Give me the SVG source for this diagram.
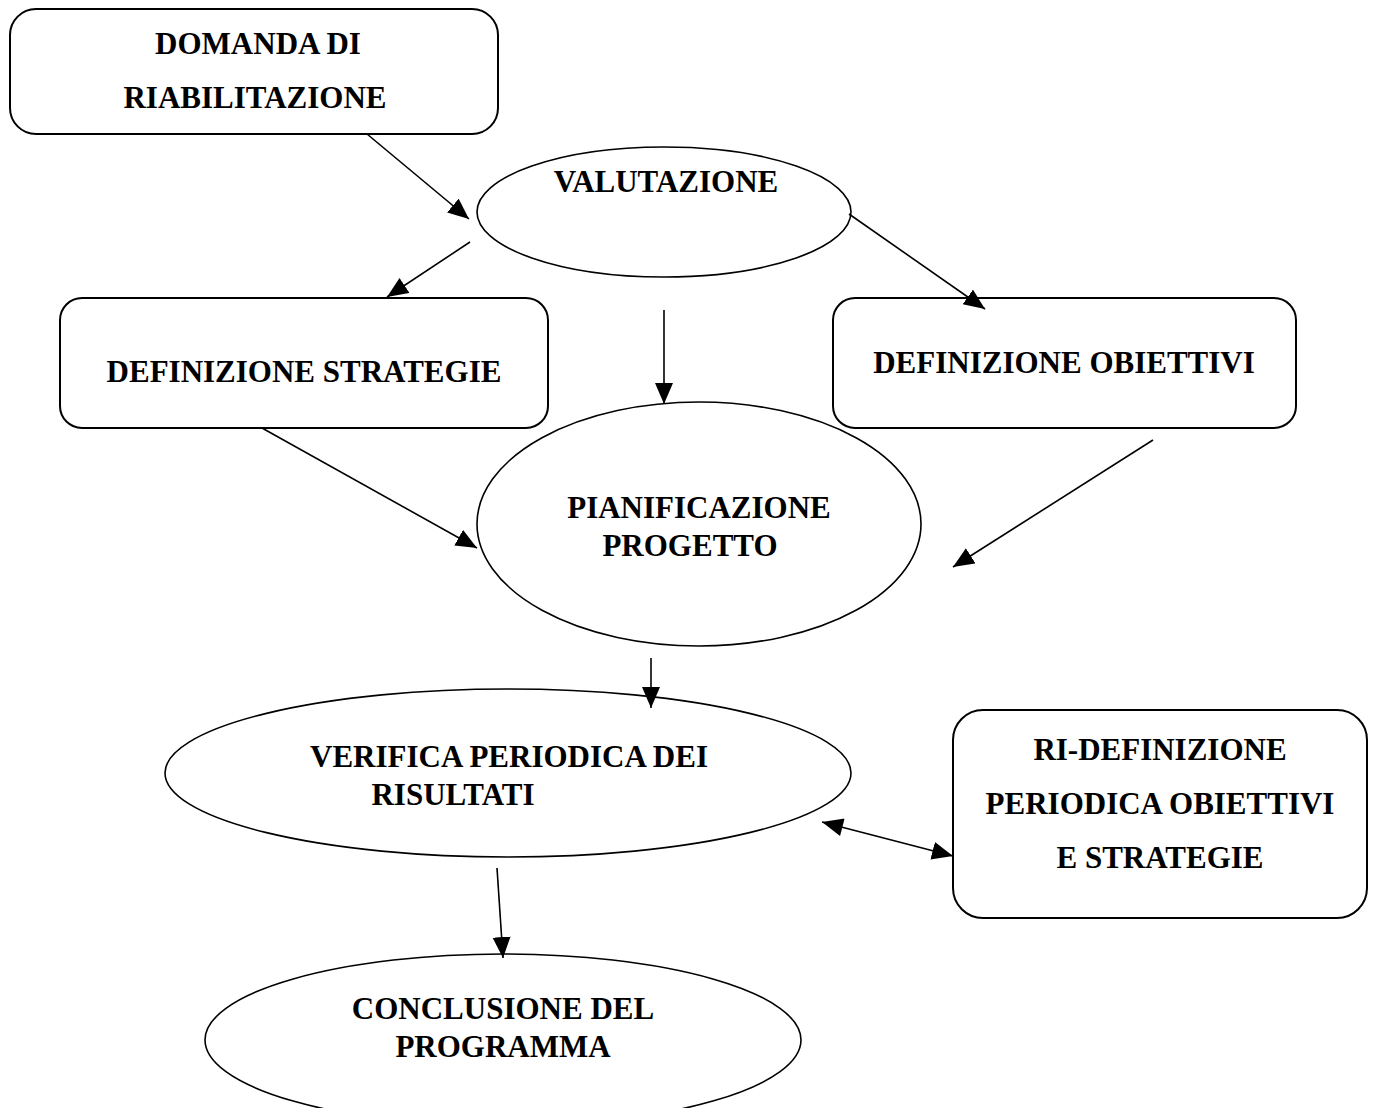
<svg xmlns="http://www.w3.org/2000/svg" width="1377" height="1108" viewBox="0 0 1377 1108">
<style>
.box{fill:#fff;stroke:#000;stroke-width:2}
.ell{fill:#fff;stroke:#000;stroke-width:1.6}
.t{font-family:"Liberation Serif","Times New Roman",serif;font-weight:bold;font-size:31px;text-anchor:middle;fill:#000}
.c{stroke:#000;stroke-width:1.6;fill:none;marker-end:url(#ah)}
</style>
<defs>
<marker id="ah" markerUnits="userSpaceOnUse" markerWidth="24" markerHeight="20" refX="21" refY="9" orient="auto">
<path d="M0,0 L21,9 L0,18 z" fill="#000"/>
</marker>
<marker id="ahs" markerUnits="userSpaceOnUse" markerWidth="24" markerHeight="20" refX="0" refY="9" orient="auto">
<path d="M21,0 L0,9 L21,18 z" fill="#000"/>
</marker>
</defs>
<g id="domanda">
<rect class="box" x="10" y="9" width="488" height="125" rx="26"/>
<text class="t" x="258" y="54">DOMANDA DI</text>
<text class="t" x="255" y="108">RIABILITAZIONE</text>
</g>
<g id="valutazione">
<ellipse class="ell" cx="664" cy="212" rx="187" ry="65"/>
<text class="t" x="666" y="192">VALUTAZIONE</text>
</g>
<g id="strategie">
<rect class="box" x="60" y="298" width="488" height="130" rx="22"/>
<text class="t" x="304" y="382">DEFINIZIONE STRATEGIE</text>
</g>
<g id="obiettivi">
<rect class="box" x="833" y="298" width="463" height="130" rx="22"/>
<text class="t" x="1064" y="373">DEFINIZIONE OBIETTIVI</text>
</g>
<g id="pianificazione">
<ellipse class="ell" cx="699" cy="524" rx="222" ry="122"/>
<text class="t" x="699" y="518">PIANIFICAZIONE</text>
<text class="t" x="690" y="556">PROGETTO</text>
</g>
<g id="verifica">
<ellipse class="ell" cx="508" cy="773" rx="343" ry="84"/>
<text class="t" x="509" y="767">VERIFICA PERIODICA DEI</text>
<text class="t" x="453" y="805">RISULTATI</text>
</g>
<g id="ridefinizione">
<rect class="box" x="953" y="710" width="414" height="208" rx="30"/>
<text class="t" x="1160" y="760">RI-DEFINIZIONE</text>
<text class="t" x="1160" y="814">PERIODICA OBIETTIVI</text>
<text class="t" x="1160" y="868">E STRATEGIE</text>
</g>
<g id="conclusione">
<ellipse class="ell" cx="503" cy="1040" rx="298" ry="86"/>
<text class="t" x="503" y="1019">CONCLUSIONE DEL</text>
<text class="t" x="503" y="1057">PROGRAMMA</text>
</g>
<g id="connectors">
<line class="c" x1="367" y1="134" x2="469" y2="219"/>
<line class="c" x1="470" y1="242" x2="387" y2="297"/>
<line class="c" x1="664" y1="310" x2="664" y2="404"/>
<line class="c" x1="849" y1="214" x2="985" y2="309"/>
<line class="c" x1="262" y1="428" x2="477" y2="548"/>
<line class="c" x1="1153" y1="440" x2="953" y2="567"/>
<line class="c" x1="651" y1="658" x2="651" y2="708"/>
<line class="c" x1="822" y1="822" x2="953" y2="856" marker-start="url(#ahs)"/>
<line class="c" x1="497" y1="868" x2="503" y2="958"/>
</g>
</svg>
